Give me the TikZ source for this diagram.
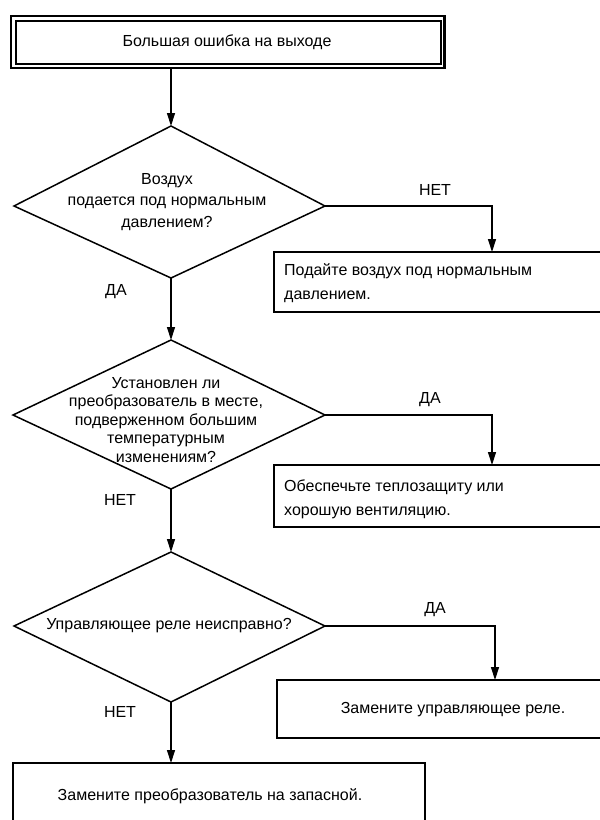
\documentclass[tikz,border=0pt]{standalone}
\usepackage{fontspec}
\setmainfont{Liberation Sans}
\usetikzlibrary{arrows.meta,shapes.geometric}
\begin{document}
\begin{tikzpicture}[x=1pt,y=-1pt,
  conn/.style={line width=1.3pt},
  arr/.style={conn,-{Triangle[length=13pt,width=8pt]}},
  box/.style={draw,line width=2.2pt},
  dia/.style={draw,line width=1.5pt},
  txt/.style={font=\fontsize{16}{19}\selectfont,inner sep=0pt},
  lbl/.style={font=\fontsize{16}{19}\selectfont,inner sep=0pt}]
\clip (0,0) rectangle (600,820);
\fill[white] (0,0) rectangle (600,820);
% top box
\draw[line width=2.4pt] (11,16) rectangle (444.5,68);
\draw[line width=2pt] (15.5,21) rectangle (440.5,63.5);
\node[txt] (t0) at (227,42) {Большая ошибка на выходе};
\coordinate (b0) at (171,69);
% diamond 1
\coordinate (d1t) at (171,126);
\coordinate (d1l) at (14,206);
\coordinate (d1r) at (325,206);
\coordinate (d1b) at (171,278);
\draw[dia] (d1t) -- (d1r) -- (d1b) -- (d1l) -- cycle;
\node[txt,align=center,font=\fontsize{16}{21.5}\selectfont] (q1) at (167,202) {Воздух\\подается под нормальным\\давлением?};
\draw[arr] (b0) -- (d1t);
% box 2
\draw[box] (274,252) rectangle (640,312);
\node[txt,anchor=west,align=left,font=\fontsize{16}{24}\selectfont] (a1) at (284,283) {Подайте воздух под нормальным\\давлением.};
\coordinate (a1t) at (492,252);
\draw[arr] (d1r) -| (a1t);
\node[lbl] (n1) at (435,190) {НЕТ};
\node[lbl] (y1) at (116,292) {ДА};
% diamond 2
\coordinate (d2t) at (171,340);
\coordinate (d2l) at (13,415);
\coordinate (d2r) at (325,415);
\coordinate (d2b) at (171,489);
\draw[dia] (d2t) -- (d2r) -- (d2b) -- (d2l) -- cycle;
\draw[arr] (d1b) -- (d2t);
\node[txt,align=center,font=\fontsize{16}{18.5}\selectfont] (q2) at (166,420) {Установлен ли\\преобразователь в месте,\\подверженном большим\\температурным\\изменениям?};
% box 3
\draw[box] (274,465) rectangle (640,527);
\node[txt,anchor=west,align=left,font=\fontsize{16}{24}\selectfont] (a2) at (284,499) {Обеспечьте теплозащиту или\\хорошую вентиляцию.};
\coordinate (a2t) at (492,465);
\draw[arr] (d2r) -| (a2t);
\node[lbl] (y2) at (430,400) {ДА};
\node[lbl] (n2) at (120,500) {НЕТ};
% diamond 3
\coordinate (d3t) at (171,552);
\coordinate (d3l) at (14,626);
\coordinate (d3r) at (325,626);
\coordinate (d3b) at (171,702);
\draw[dia] (d3t) -- (d3r) -- (d3b) -- (d3l) -- cycle;
\draw[arr] (d2b) -- (d3t);
\node[txt] (q3) at (169,626) {Управляющее реле неисправно?};
% box 4
\draw[box] (277,680) rectangle (640,738);
\node[txt] (a3) at (453,710) {Замените управляющее реле.};
\coordinate (a3t) at (495,680);
\draw[arr] (d3r) -| (a3t);
\node[lbl] (y3) at (435,610) {ДА};
\node[lbl] (n3) at (120,712) {НЕТ};
% box 5
\draw[box] (13,763) rectangle (425,860);
\node[txt] (a4) at (210,796) {Замените преобразователь на запасной.};
\coordinate (a4t) at (171,763);
\draw[arr] (d3b) -- (a4t);
\end{tikzpicture}
\end{document}
